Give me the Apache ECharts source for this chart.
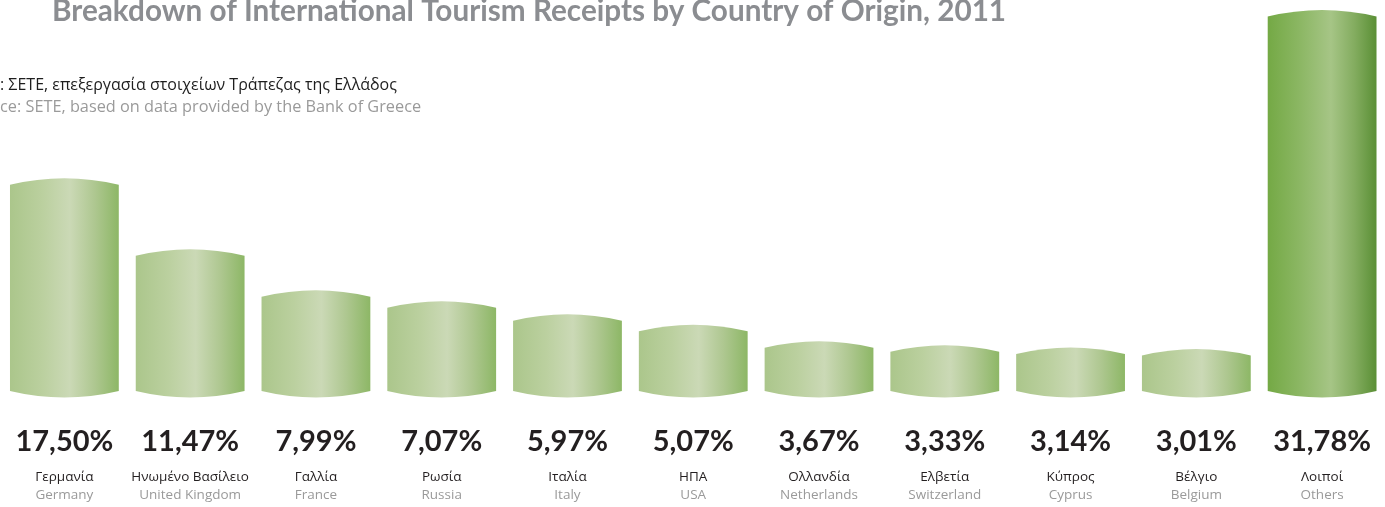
<!DOCTYPE html>
<html>
<head>
<meta charset="utf-8">
<script src="https://cdn.jsdelivr.net/npm/echarts@6/dist/echarts.min.js"></script>
<style>
html,body{margin:0;padding:0;background:#fff;}
#chart{width:1385px;height:507px;}
</style>
</head>
<body>
<div id="chart"></div>
<script>
// ---- data ----
var greekNames = ['Γερμανία','Ηνωμένο Βασίλειο','Γαλλία','Ρωσία','Ιταλία','ΗΠΑ','Ολλανδία','Ελβετία','Κύπρος','Βέλγιο','Λοιποί'];
var englishNames = ['Germany','United Kingdom','France','Russia','Italy','USA','Netherlands','Switzerland','Cyprus','Belgium','Others'];
var shares = [17.50, 11.47, 7.99, 7.07, 5.97, 5.07, 3.67, 3.33, 3.14, 3.01, 31.78];
var highlighted = [false,false,false,false,false,false,false,false,false,false,true];
var titleText = 'Breakdown of International Tourism Receipts by Country of Origin, 2011';
var sourceGreek = ': ΣΕΤΕ, επεξεργασία στοιχείων Τράπεζας της Ελλάδος';
var sourceEnglish = 'ce: SETE, based on data provided by the Bank of Greece';

// ---- styles ----
var lightStops = [
  {offset:0, color:'#abc68b'},
  {offset:0.3, color:'#bbd09f'},
  {offset:0.55, color:'#cbd9b6'},
  {offset:0.78, color:'#aec790'},
  {offset:1, color:'#8db766'}
];
var darkStops = [
  {offset:0, color:'#74a945'},
  {offset:0.3, color:'#8cb764'},
  {offset:0.58, color:'#a6c586'},
  {offset:0.8, color:'#83ac5f'},
  {offset:1, color:'#5a8f35'}
];
var barRatio = 109/126;
var bulge = 6.5;

function fmt(v){ return v.toFixed(2).replace('.', ',') + '%'; }

var chart = echarts.init(document.getElementById('chart'));
var data = shares.map(function(v,i){ return [i, v, highlighted[i] ? 1 : 0]; });

chart.setOption({
  animation: false,
  backgroundColor: '#ffffff',
  graphic: [
    {type:'text', left: 52, top: -4, style:{text: titleText, fill:'#8b8d91', font:'bold 29.7px Lato'}},
    {type:'text', left: 0, top: 77, style:{text: sourceGreek, fill:'#1e1e1e', font:'16px "Open Sans"'}},
    {type:'text', left: 0, top: 99, style:{text: sourceEnglish, fill:'#9a9a9a', font:'16.3px "Open Sans"'}}
  ],
  grid: {left: 1.5, width: 1386, top: 2, bottom: 116, containLabel: false},
  xAxis: {
    type: 'category',
    data: greekNames,
    axisLine: {show:false},
    axisTick: {show:false},
    axisLabel: {
      interval: 0,
      margin: 24,
      formatter: function(val, idx){
        return '{p|' + fmt(shares[idx]) + '}\n{g|' + greekNames[idx] + '}\n{e|' + englishNames[idx] + '}';
      },
      rich: {
        p: {fontFamily:'Lato', fontWeight:'bold', fontSize:29, color:'#231f20', lineHeight:53},
        g: {fontFamily:'"Open Sans"', fontSize:13.5, color:'#231f20', lineHeight:18},
        e: {fontFamily:'"Open Sans"', fontSize:13.5, color:'#9a9a9a', lineHeight:18}
      }
    }
  },
  yAxis: {type:'value', min:0, max:33, show:false, splitLine:{show:false}},
  series: [{
    type: 'custom',
    data: data,
    encode: {x:0, y:1},
    renderItem: function(params, api){
      var idx = api.value(0);
      var top = api.coord([idx, api.value(1)]);
      var base = api.coord([idx, 0]);
      var w = api.size([1, 0])[0] * barRatio;
      var x0 = top[0] - w/2, x1 = top[0] + w/2, cx = top[0];
      var yt = top[1], yb = base[1];
      var d = 'M' + x0 + ' ' + yt + ' Q' + cx + ' ' + (yt - 2*bulge) + ' ' + x1 + ' ' + yt +
              ' L' + x1 + ' ' + yb + ' Q' + cx + ' ' + (yb + 2*bulge) + ' ' + x0 + ' ' + yb + ' Z';
      return {
        type: 'path',
        shape: {pathData: d},
        style: {
          fill: new echarts.graphic.LinearGradient(0, 0, 1, 0, api.value(2) ? darkStops : lightStops),
          stroke: null
        }
      };
    }
  }]
});
</script>
</body>
</html>
